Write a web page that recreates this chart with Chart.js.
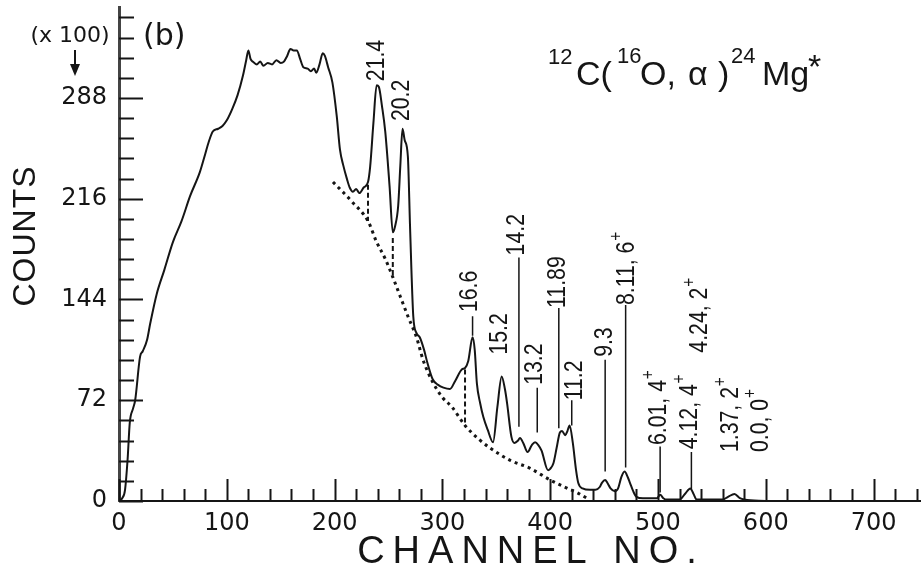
<!DOCTYPE html>
<html>
<head>
<meta charset="utf-8">
<script src="https://cdn.jsdelivr.net/npm/chart.js@4.4.1/dist/chart.umd.min.js"></script>
<style>
html,body{margin:0;padding:0;background:#fff;}
#wrap{width:921px;height:574px;position:relative;}
</style>
</head>
<body>
<div id="wrap"><canvas id="spectrum"></canvas></div>
<script>
// Spectrum (channel no., counts x100)
const channels = [
  0,3,5.6,8,10,13,15,19.5,22,26,
  29,35,42,50,58,66,75,80,83,87,
  92,96,100,105,110,115,118,120,122,124,
  128,131,134,138,142,146,150,153,156,159,
  162,165,168,171,175,178,181,183,186,189,
  191,194,198,202,205,208,211.5,214,217,220,
  223,227,231,233,236,239,241,244,247,251,
  254,256,259,261,263,265,268,270,273,276,
  279,283,286,291,296,301,307,312,318,321,
  324,328,330,332,335,338,342,347,351,355,
  358,360,364,367,370,372,375,379,383,386,
  389,392,398,400,403,406,409,411,414,416,
  418,421,424,426,430,437,442,446,448,451,
  453,456,460,463,466,469,472,474,477,480,
  486,499,502,505,508,520,525,530,533,536,
  560,565,571,576,580,600
];
const counts = [
  0,2,8,30,56,66,72,103,107,115,
  127,148,165,185,200,218,235,248,256,264,
  266,268,272,280,290,304,315,322,316,314,
  312,314,311,313,312,315,313,314,318,323,
  322,322,316,310,309,307,309,306,312,320,
  318,310,299,275,251,240,230,224,221,223,
  220,224,228,239,270,297,296,282,264,225,
  192,196,211,240,266,258,246,196,132,120,
  117,108,99,87,83,81,80,86,94,95,
  100,117,108,84,70,60,51,42,67,89,
  80,70,46,41.5,43,45,41.5,35,40,42,
  40,36,22,23,27,38,49,50,47,50,
  54,41.5,22,13,9,8,8,10,13,15,
  13,9,7,9,17,21,17,13,7,3,
  2,2,4.5,2,1,1,5,9,5,1,
  1,3,5,2,1,0
];

// dotted background under the peaks
const bgChannels = [198.5,216,231,239,247,254,261,268,276,282,291,300,309,321,334,344,363,381,400,416,425,434];
const bgCounts = [228,214,200,185,173,160,146,132,117,101,85,74,67,54,44,38,29,23.5,15,9,6,2];

// dashed drop lines
const dropChannels = [231, 254, 321];
const dropTop = [226, 188, 94];
const dropBottom = [200, 160, 54];

// thin marker lines under the level labels
const markChannels = [328, 371, 388, 408, 420, 451, 470, 502, 531];
const markTop = [132, 174, 81, 138, 72, 101, 140, 39, 35];
const markBottom = [118, 53, 49, 52, 54, 21, 24, 6, 8];

// excitation energy labels (text ^ superscript)
const peakLabels = ['21.4','20.2','16.6','15.2','14.2','13.2','11.89','11.2','9.3','8.11, 6^+','6.01, 4^+','4.12, 4^+','4.24, 2^+','1.37, 2^+','0.0, 0^+'];
const labelChannels = [239.3, 263, 325.5, 353.4, 369, 386, 407, 423, 451, 471, 501, 530, 539, 568, 595.5];
const labelCounts = [300, 271.5, 135, 104.6, 175.5, 83, 138, 72, 103, 140, 40, 37, 106, 35, 35];

const xMax = 744, yMax = 353;
const yLabelStep = 72, yMinorStep = 14.4, xLabelStep = 100, xMinorStep = 20;

function segments(xs, tops, bottoms){
    const pts = [];
    xs.forEach((c,i)=>{ pts.push({x:c,y:tops[i]},{x:c,y:bottoms[i]},{x:c,y:null}); });
    return pts;
}
function isMult(v, step){ return Math.abs(v/step - Math.round(v/step)) < 1e-6; }

const ink = '#151515';

const decorPlugin = {
    id: 'decor',
    afterDraw(chart){
        const ctx = chart.ctx, xs = chart.scales.x, ys = chart.scales.y, a = chart.chartArea;
        ctx.save();
        ctx.strokeStyle = ink; ctx.fillStyle = ink; ctx.lineWidth = 2;
        // inward ticks
        ys.ticks.forEach(t=>{
            const py = Math.round(ys.getPixelForValue(t.value)) + 0.5;
            const len = isMult(t.value, yLabelStep) ? 24 : 15;
            ctx.beginPath(); ctx.moveTo(a.left, py); ctx.lineTo(a.left + len, py); ctx.stroke();
        });
        xs.ticks.forEach(t=>{
            const px = Math.round(xs.getPixelForValue(t.value)) + 0.5;
            const len = isMult(t.value, xLabelStep) ? 22 : 12;
            ctx.beginPath(); ctx.moveTo(px, a.bottom); ctx.lineTo(px, a.bottom - len); ctx.stroke();
        });

        // level labels, rotated
        peakLabels.forEach((s,i)=>{
            const px = xs.getPixelForValue(labelChannels[i]);
            const py = ys.getPixelForValue(labelCounts[i]);
            const parts = s.split('^');
            ctx.save();
            ctx.translate(px, py); ctx.rotate(-Math.PI/2); ctx.scale(0.85, 1);
            ctx.font = '25px "Liberation Sans"'; ctx.textAlign = 'left'; ctx.textBaseline = 'middle';
            ctx.fillText(parts[0], 0, 0);
            if(parts[1]){
                const w = ctx.measureText(parts[0]).width;
                ctx.font = '18px "Liberation Sans"';
                ctx.fillText(parts[1], w + 1, -10);
            }
            ctx.restore();
        });

        // (x100) and arrow
        ctx.font = '22px "DejaVu Sans"'; ctx.textAlign = 'center'; ctx.textBaseline = 'middle';
        ctx.fillText('(x 100)', 70, 36);
        ctx.beginPath(); ctx.moveTo(75, 50); ctx.lineTo(75, 68); ctx.stroke();
        ctx.beginPath(); ctx.moveTo(70, 64); ctx.lineTo(80, 64); ctx.lineTo(75, 76); ctx.closePath(); ctx.fill();

        ctx.font = '30px "DejaVu Sans"'; ctx.textAlign = 'left';
        ctx.fillText('(b)', 143, 37);

        // reaction
        ctx.textBaseline = 'alphabetic';
        const big = '34px "Liberation Sans"', sup = '22px "Liberation Sans"';
        const pieces = [
            ['12', 548, 64, sup], ['C(', 576, 85, big], ['16', 617, 63, sup],
            ['O,', 640, 85, big], ['α', 688, 85, big], [')', 718, 85, big],
            ['24', 731, 63, sup], ['Mg', 762, 85, big], ['*', 808, 78, big]
        ];
        pieces.forEach(p=>{ ctx.font = p[3]; ctx.fillText(p[0], p[1], p[2]); });

        // axis titles
        ctx.textAlign = 'center'; ctx.textBaseline = 'middle';
        ctx.font = '38px "Liberation Sans"';
        ctx.letterSpacing = '8px';
        ctx.fillText('CHANNEL NO.', 531, 553);
        ctx.letterSpacing = '1px';
        ctx.save();
        ctx.translate(26, 236); ctx.rotate(-Math.PI/2);
        ctx.font = '32px "Liberation Sans"';
        ctx.fillText('COUNTS', 0, 0);
        ctx.restore();
        ctx.restore();
    }
};

Chart.defaults.font.family = '"DejaVu Sans"';
Chart.defaults.color = ink;

new Chart(document.getElementById('spectrum').getContext('2d'), {
    type: 'line',
    data: {
        datasets: [
            {data: channels.map((c,i)=>({x:c,y:counts[i]})), borderColor: ink, borderWidth: 2, pointRadius: 0, cubicInterpolationMode: 'monotone', fill: false},
            {data: bgChannels.map((c,i)=>({x:c,y:bgCounts[i]})), borderColor: ink, borderWidth: 3, borderDash: [3,4], pointRadius: 0, cubicInterpolationMode: 'monotone', fill: false},
            {data: segments(dropChannels, dropTop, dropBottom), borderColor: ink, borderWidth: 2, borderDash: [5,3], pointRadius: 0, spanGaps: false, fill: false},
            {data: segments(markChannels, markTop, markBottom), borderColor: ink, borderWidth: 1.5, pointRadius: 0, spanGaps: false, fill: false}
        ]
    },
    options: {
        responsive: true, maintainAspectRatio: false, animation: false,
        layout: {padding: {top: 7, right: 0, left: 0, bottom: 0}},
        plugins: {legend: {display: false}, tooltip: {enabled: false}},
        scales: {
            x: {
                type: 'linear', min: 0, max: xMax,
                grid: {display: false, drawTicks: false},
                border: {display: true, color: ink, width: 2},
                ticks: {stepSize: xMinorStep, includeBounds: false, autoSkip: false, maxRotation: 0, padding: 8,
                        font: {size: 24}, callback: v => isMult(v, xLabelStep) ? String(v) : ''},
                afterFit: s => { s.height = 73; s.paddingLeft = 0; s.paddingRight = 0; }
            },
            y: {
                type: 'linear', min: 0, max: yMax,
                grid: {display: false, drawTicks: false},
                border: {display: true, color: '#444', width: 3},
                ticks: {stepSize: yMinorStep, includeBounds: false, autoSkip: false, padding: 12,
                        font: {size: 24}, callback: v => isMult(v, yLabelStep) ? String(Math.round(v)) : ''},
                afterFit: s => { s.width = 119; s.paddingTop = 0; s.paddingBottom = 0; }
            }
        }
    },
    plugins: [decorPlugin]
});
</script>
</body>
</html>
